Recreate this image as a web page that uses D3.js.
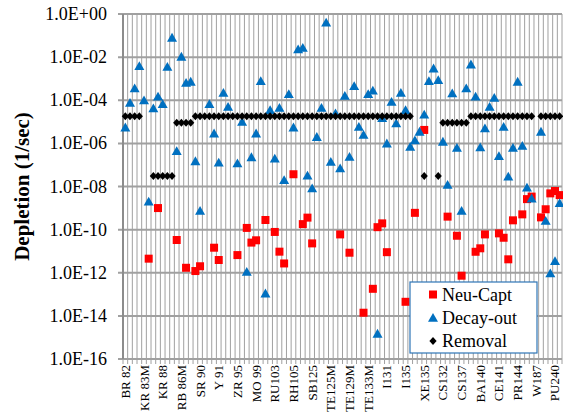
<!DOCTYPE html>
<html>
<head>
<meta charset="utf-8">
<script src="https://cdn.jsdelivr.net/npm/d3@7"></script>
</head>
<body style="margin:0">
<script>
// nuclide list (only every 4th name is shown on the axis)
var nuclides = [
  "BR 82", "BR 83", "BR 84", "BR 85", "KR 83M", "KR 85", "KR 85M", "KR 87",
  "KR 88", "KR 89", "KR 90", "RB 86", "RB 86M", "RB 88", "RB 89", "SR 89",
  "SR 90", "SR 91", "SR 92", "Y 90", "Y 91", "Y 92", "Y 93", "ZR 93",
  "ZR 95", "ZR 97", "NB 95", "NB 97", "MO 99", "TC 99M", "TC 99", "TC101",
  "RU103", "RU105", "RU106", "RH103M", "RH105", "RH106", "SB124", "SB126",
  "SB125", "SB127", "SB129", "TE125", "TE125M", "TE127", "TE127M", "TE129",
  "TE129M", "TE131", "TE131M", "TE132", "TE133M", "TE134", "I129", "I130",
  "I131", "I132", "I133", "I134", "I135", "I136", "XE131M", "XE133",
  "XE135", "XE133M", "XE135M", "XE138", "CS132", "CS134", "CS135", "CS136",
  "CS137", "CS138", "BA137M", "BA139", "BA140", "LA140", "LA141", "LA142",
  "CE141", "CE143", "CE144", "PR143", "PR144", "ND147", "PM147", "SM151",
  "W187", "NP239", "PU238", "PU239", "PU240", "PU241"
];

var neuCapt = [
  null, null, null, null, null, 4.5e-12, null, 1.0e-9,
  null, null, null, 3.3e-11, null, 1.7e-12, null, 1.2e-12,
  2.0e-12, null, null, 1.45e-11, 3.9e-12, null, null, null,
  6.6e-12, null, 1.2e-10, 2.5e-11, 3.2e-11, null, 2.8e-10, null,
  7.8e-11, 9.5e-12, 2.7e-12, null, 3.7e-8, null, 1.8e-10, 3.6e-10,
  2.3e-11, null, null, null, null, null, 6e-11, null,
  8.5e-12, null, null, 1.4e-14, null, 1.8e-13, 1.3e-10, 1.95e-10,
  9e-12, null, null, null, 4.5e-14, null, 6e-10, null,
  4.2e-6, null, null, null, null, 4e-10, null, 5.2e-11,
  7.3e-13, null, null, 9.4e-12, 1.36e-11, 6e-11, null, null,
  6.7e-11, 4.2e-11, 4.2e-12, 2.7e-10, null, 5.1e-10, 2.6e-9, 3.4e-9,
  null, 3.7e-10, 8.8e-10, 4.8e-9, 6.2e-9, 4e-9
];

var decayOut = [
  5.5e-6, 7.7e-5, 3.6e-4, 3.9e-3, 1.0e-4, 2e-9, 4.2e-5, 1.5e-4,
  6.7e-5, 3.6e-3, 0.08, 4.4e-7, 0.0105, 6.5e-4, 7.3e-4, 1.5e-7,
  7.5e-10, null, 6.7e-5, 2.9e-6, 1.3e-7, 2.2e-4, 5e-5, null,
  1.2e-7, 1e-5, 1.1e-12, 2.3e-7, 2.9e-6, 7.8e-4, 1.1e-13, 3.5e-5,
  2e-7, 4.5e-5, 2e-8, 1.95e-4, 5.5e-6, 0.023, 0.027, 3.2e-8,
  8.3e-9, 2e-6, 4.5e-5, 0.4, 1.4e-7, 2.5e-5, 7e-8, 1.6e-4,
  2.4e-7, 4.6e-4, 5.9e-6, 2.5e-6, 1.95e-4, 2.8e-4, 1.5e-15, 1.5e-5,
  1e-6, 8.5e-5, 8.5e-6, 2.2e-4, 3.5e-5, 7e-7, 1.4e-6, 3.5e-6,
  2.2e-5, 7.8e-4, 3e-3, 8.7e-4, 1.2e-6, 1.2e-8, 2.1e-4, 6.3e-7,
  7.5e-10, 3.6e-4, 4.6e-3, 1.5e-4, 6.6e-7, 5e-6, 5e-5, 1.3e-4,
  2.6e-7, 5.9e-6, 2.9e-8, 6.3e-7, 7.3e-4, 7.8e-7, 9e-9, 2.8e-9,
  null, 3.5e-6, 2.6e-10, 9.4e-13, 3.5e-12, 1.7e-9
];

var removal = [
  1.8e-5, 1.8e-5, 1.8e-5, 1.8e-5, null, null, 3.1e-8, 3.1e-8,
  3.1e-8, 3.1e-8, 3.1e-8, 9.1e-6, 9.1e-6, 9.1e-6, 9.1e-6, 1.8e-5,
  1.8e-5, 1.8e-5, 1.8e-5, 1.8e-5, 1.8e-5, 1.8e-5, 1.8e-5, 1.8e-5,
  1.8e-5, 1.8e-5, 1.8e-5, 1.8e-5, 1.8e-5, 1.8e-5, 1.8e-5, 1.8e-5,
  1.8e-5, 1.8e-5, 1.8e-5, 1.8e-5, 1.8e-5, 1.8e-5, 1.8e-5, 1.8e-5,
  1.8e-5, 1.8e-5, 1.8e-5, 1.8e-5, 1.8e-5, 1.8e-5, 1.8e-5, 1.8e-5,
  1.8e-5, 1.8e-5, 1.8e-5, 1.8e-5, 1.8e-5, 1.8e-5, 1.8e-5, 1.8e-5,
  1.8e-5, 1.8e-5, 1.8e-5, 1.8e-5, 1.8e-5, 1.8e-5, null, null,
  3.1e-8, null, null, 3.1e-8, 9.1e-6, 9.1e-6, 9.1e-6, 9.1e-6,
  9.1e-6, 9.1e-6, 1.8e-5, 1.8e-5, 1.8e-5, 1.8e-5, 1.8e-5, 1.8e-5,
  1.8e-5, 1.8e-5, 1.8e-5, 1.8e-5, 1.8e-5, 1.8e-5, 1.8e-5, 1.8e-5,
  null, 1.8e-5, 1.8e-5, 1.8e-5, 1.8e-5, 1.8e-5
];

var yTicks = [1, 1e-2, 1e-4, 1e-6, 1e-8, 1e-10, 1e-12, 1e-14, 1e-16];

var W = 563, H = 419;
var margin = {left: 123, right: 1, top: 14, bottom: 60};
var serif = '"Liberation Serif"';

var svg = d3.select('body').append('svg')
    .attr('width', W)
    .attr('height', H)
    .style('font-family', serif);

var x = d3.scaleBand()
    .domain(d3.range(nuclides.length))
    .range([margin.left, W - margin.right])
    .paddingInner(0)
    .paddingOuter(0);

var y = d3.scaleLog()
    .domain([1e-16, 1])
    .range([H - margin.bottom, margin.top]);

var bw = x.bandwidth();

// vertical gridlines at category boundaries
var bounds = d3.range(nuclides.length + 1).map(function(i) { return margin.left + i * bw; });
svg.append('g').selectAll('line').data(bounds)
    .enter().append('line')
    .attr('x1', function(d) { return d; })
    .attr('x2', function(d) { return d; })
    .attr('y1', y(1))
    .attr('y2', y(1e-16) + 5)
    .attr('stroke', '#a0a0a0')
    .attr('stroke-width', 1);

// horizontal gridlines
svg.append('g').selectAll('line').data(yTicks)
    .enter().append('line')
    .attr('x1', margin.left - 5)
    .attr('x2', W - margin.right)
    .attr('y1', function(d) { return y(d); })
    .attr('y2', function(d) { return y(d); })
    .attr('stroke', '#a0a0a0')
    .attr('stroke-width', 2);

// y axis line
svg.append('line')
    .attr('x1', margin.left).attr('x2', margin.left)
    .attr('y1', y(1)).attr('y2', y(1e-16))
    .attr('stroke', '#8c8c8c').attr('stroke-width', 2);

// y tick labels
function fmtExp(d) {
    var e = Math.round(Math.log10(d));
    var a = Math.abs(e);
    return '1.0E' + (e >= 0 ? '+' : '-') + (a < 10 ? '0' + a : a);
}
svg.append('g').selectAll('text').data(yTicks)
    .enter().append('text')
    .attr('x', 107)
    .attr('y', function(d) { return y(d) + 6; })
    .attr('text-anchor', 'end')
    .style('font-family', serif)
    .style('font-size', '18px')
    .text(fmtExp);

// x tick labels, every 4th nuclide
svg.append('g').selectAll('text')
    .data(nuclides.map(function(n, i) { return {n: n, i: i}; }).filter(function(d) { return d.i % 4 === 0; }))
    .enter().append('text')
    .attr('transform', function(d) {
        return 'translate(' + (x(d.i) + bw / 2 + 4.5) + ',' + (y(1e-16) + 6) + ') rotate(-90)';
    })
    .attr('text-anchor', 'end')
    .style('font-family', serif)
    .style('font-size', '13px')
    .text(function(d) { return d.n; });

// y axis title
svg.append('text')
    .attr('transform', 'translate(29,' + ((y(1) + y(1e-16)) / 2) + ') rotate(-90)')
    .attr('text-anchor', 'middle')
    .style('font-family', serif)
    .style('font-size', '21px')
    .style('font-weight', 'bold')
    .text('Depletion (1/sec)');

// marker shapes
var shapes = {
    square: 'M-4,-4H4V4H-4Z',
    triangle: 'M0,-4.8L5,4L-5,4Z',
    diamond: 'M0,-4L3.6,0L0,4L-3.6,0Z'
};

var series = [
    {name: 'Neu-Capt', values: neuCapt, color: '#ff0000', shape: shapes.square},
    {name: 'Decay-out', values: decayOut, color: '#0070c0', shape: shapes.triangle},
    {name: 'Removal', values: removal, color: '#000000', shape: shapes.diamond}
];

series.forEach(function(s) {
    svg.append('g').selectAll('path')
        .data(s.values.map(function(v, i) { return {v: v, i: i}; }).filter(function(d) { return d.v !== null; }))
        .enter().append('path')
        .attr('d', s.shape)
        .attr('fill', s.color)
        .attr('transform', function(d) {
            return 'translate(' + (x(d.i) + bw / 2) + ',' + y(d.v) + ')';
        });
});

// legend
var lg = svg.append('g').attr('transform', 'translate(410,282)');
lg.append('rect')
    .attr('width', 127).attr('height', 71)
    .attr('fill', '#fff')
    .attr('stroke', '#2e75b6')
    .attr('stroke-width', 1.2);
series.forEach(function(s, k) {
    var yy = 12.5 + k * 23.3;
    lg.append('path')
        .attr('d', s.shape)
        .attr('fill', s.color)
        .attr('transform', 'translate(23,' + yy + ')');
    lg.append('text')
        .attr('x', 32)
        .attr('y', yy + 6)
        .style('font-family', serif)
        .style('font-size', '18px')
        .text(s.name);
});
</script>
</body>
</html>
